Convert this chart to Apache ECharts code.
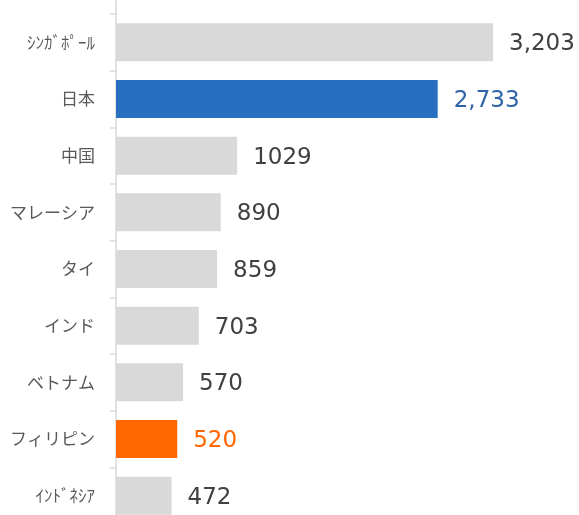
<!DOCTYPE html>
<html>
<head>
<meta charset="utf-8">
<script src="https://cdn.jsdelivr.net/npm/echarts@6/dist/echarts.min.js"></script>
<style>
  html, body { margin: 0; padding: 0; background: #fff; }
  #container { width: 579px; height: 515px; }
</style>
</head>
<body>
<div id="container"></div>
<script>
const categories = ['ｼﾝｶﾞﾎﾟｰﾙ', '日本', '中国', 'マレーシア', 'タイ', 'インド', 'ベトナム', 'フィリピン', 'ｲﾝﾄﾞﾈｼｱ']
const values = [3203, 2733, 1029, 890, 859, 703, 570, 520, 472]
const valueLabels = ['3,203', '2,733', '1029', '890', '859', '703', '570', '520', '472']
const highlight = { '日本': 'blue', 'フィリピン': 'orange' }

const barColors = { blue: '#2770BF', orange: '#FF6600', none: '#D9D9D9' }
const textColors = { blue: '#2E63A6', orange: '#FF6600', none: '#404040' }

const myChart = echarts.init(document.getElementById('container'))

const option = {
  animation: false,
  grid: {
    left: 116,
    right: 51,
    top: 14,
    height: 510,
    outerBoundsMode: 'none'
  },
  xAxis: {
    type: 'value',
    min: 0,
    max: 3500,
    show: false
  },
  yAxis: {
    type: 'category',
    inverse: true,
    data: categories,
    axisLine: {
      show: true,
      lineStyle: { color: '#D9D9D9', width: 1.5 }
    },
    axisTick: {
      show: true,
      length: 6,
      lineStyle: { color: '#D9D9D9', width: 1.5 }
    },
    axisLabel: {
      margin: 21,
      fontSize: 17,
      color: '#595959',
      fontFamily: 'Noto Sans CJK JP'
    }
  },
  graphic: [
    {
      // 軸線を上端まで延長
      type: 'line',
      shape: { x1: 116, y1: 0, x2: 116, y2: 14 },
      style: { stroke: '#D9D9D9', lineWidth: 1.5 }
    }
  ],
  series: [
    {
      type: 'bar',
      barCategoryGap: '33%',
      data: values.map((v, i) => {
        const key = highlight[categories[i]] || 'none'
        return {
          value: v,
          itemStyle: { color: barColors[key] },
          label: { color: textColors[key] }
        }
      }),
      label: {
        show: true,
        position: 'right',
        distance: 16,
        offset: [0, 2],
        fontSize: 23,
        fontFamily: 'DejaVu Sans',
        formatter: p => valueLabels[p.dataIndex]
      }
    }
  ]
}

myChart.setOption(option)
</script>
</body>
</html>
